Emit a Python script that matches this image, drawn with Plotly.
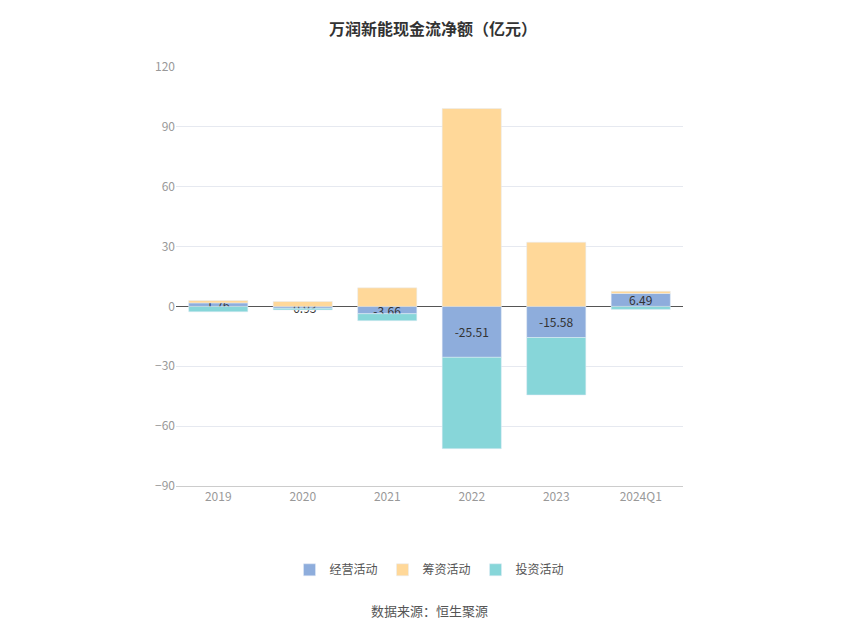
import plotly.graph_objects as go

years = ["2019", "2020", "2021", "2022", "2023", "2024Q1"]
operating = [1.76, -0.93, -3.66, -25.51, -15.58, 6.49]
financing = [1.2, 2.5, 9.3, 99.2, 32.2, 1.1]
investing = [-2.7, -0.8, -3.5, -45.8, -28.8, -1.5]

fig = go.Figure()
fig.add_trace(go.Bar(x=years, y=operating, name="经营活动", marker_color="#8eaddc",
                     text=[f"{v:.2f}" for v in operating], textposition="inside",
                     insidetextanchor="middle", constraintext="none",
                     textfont=dict(color="#333", size=12)))
fig.add_trace(go.Bar(x=years, y=financing, name="筹资活动", marker_color="#ffd899"))
fig.add_trace(go.Bar(x=years, y=investing, name="投资活动", marker_color="#87d6d9"))

fig.update_layout(
    barmode="relative", bargap=0.3,
    width=850, height=637,
    paper_bgcolor="white", plot_bgcolor="white",
    font=dict(family="Noto Sans CJK SC", color="#888", size=12),
    title=dict(text="<b>万润新能现金流净额（亿元）</b>", x=0.5, y=0.975,
               font=dict(size=16, color="#333")),
    margin=dict(l=168, r=175, t=59, b=159),
    legend=dict(orientation="h", x=0.5, xanchor="center", y=-0.2, yanchor="middle",
                font=dict(color="#555", size=12)),
    showlegend=True,
    annotations=[dict(text="数据来源：恒生聚源", x=0.5, xref="paper", y=-0.325, yref="paper",
                      showarrow=False, font=dict(size=13, color="#555"))],
)
fig.update_yaxes(range=[-90, 120], dtick=30, gridcolor="#e6e9f0", zeroline=True,
                 zerolinecolor="#555", zerolinewidth=1, ticks="", tickfont=dict(color="#999"))
fig.update_xaxes(showline=True, linecolor="#ccc", tickfont=dict(color="#999"))

fig.write_html("out.html")
